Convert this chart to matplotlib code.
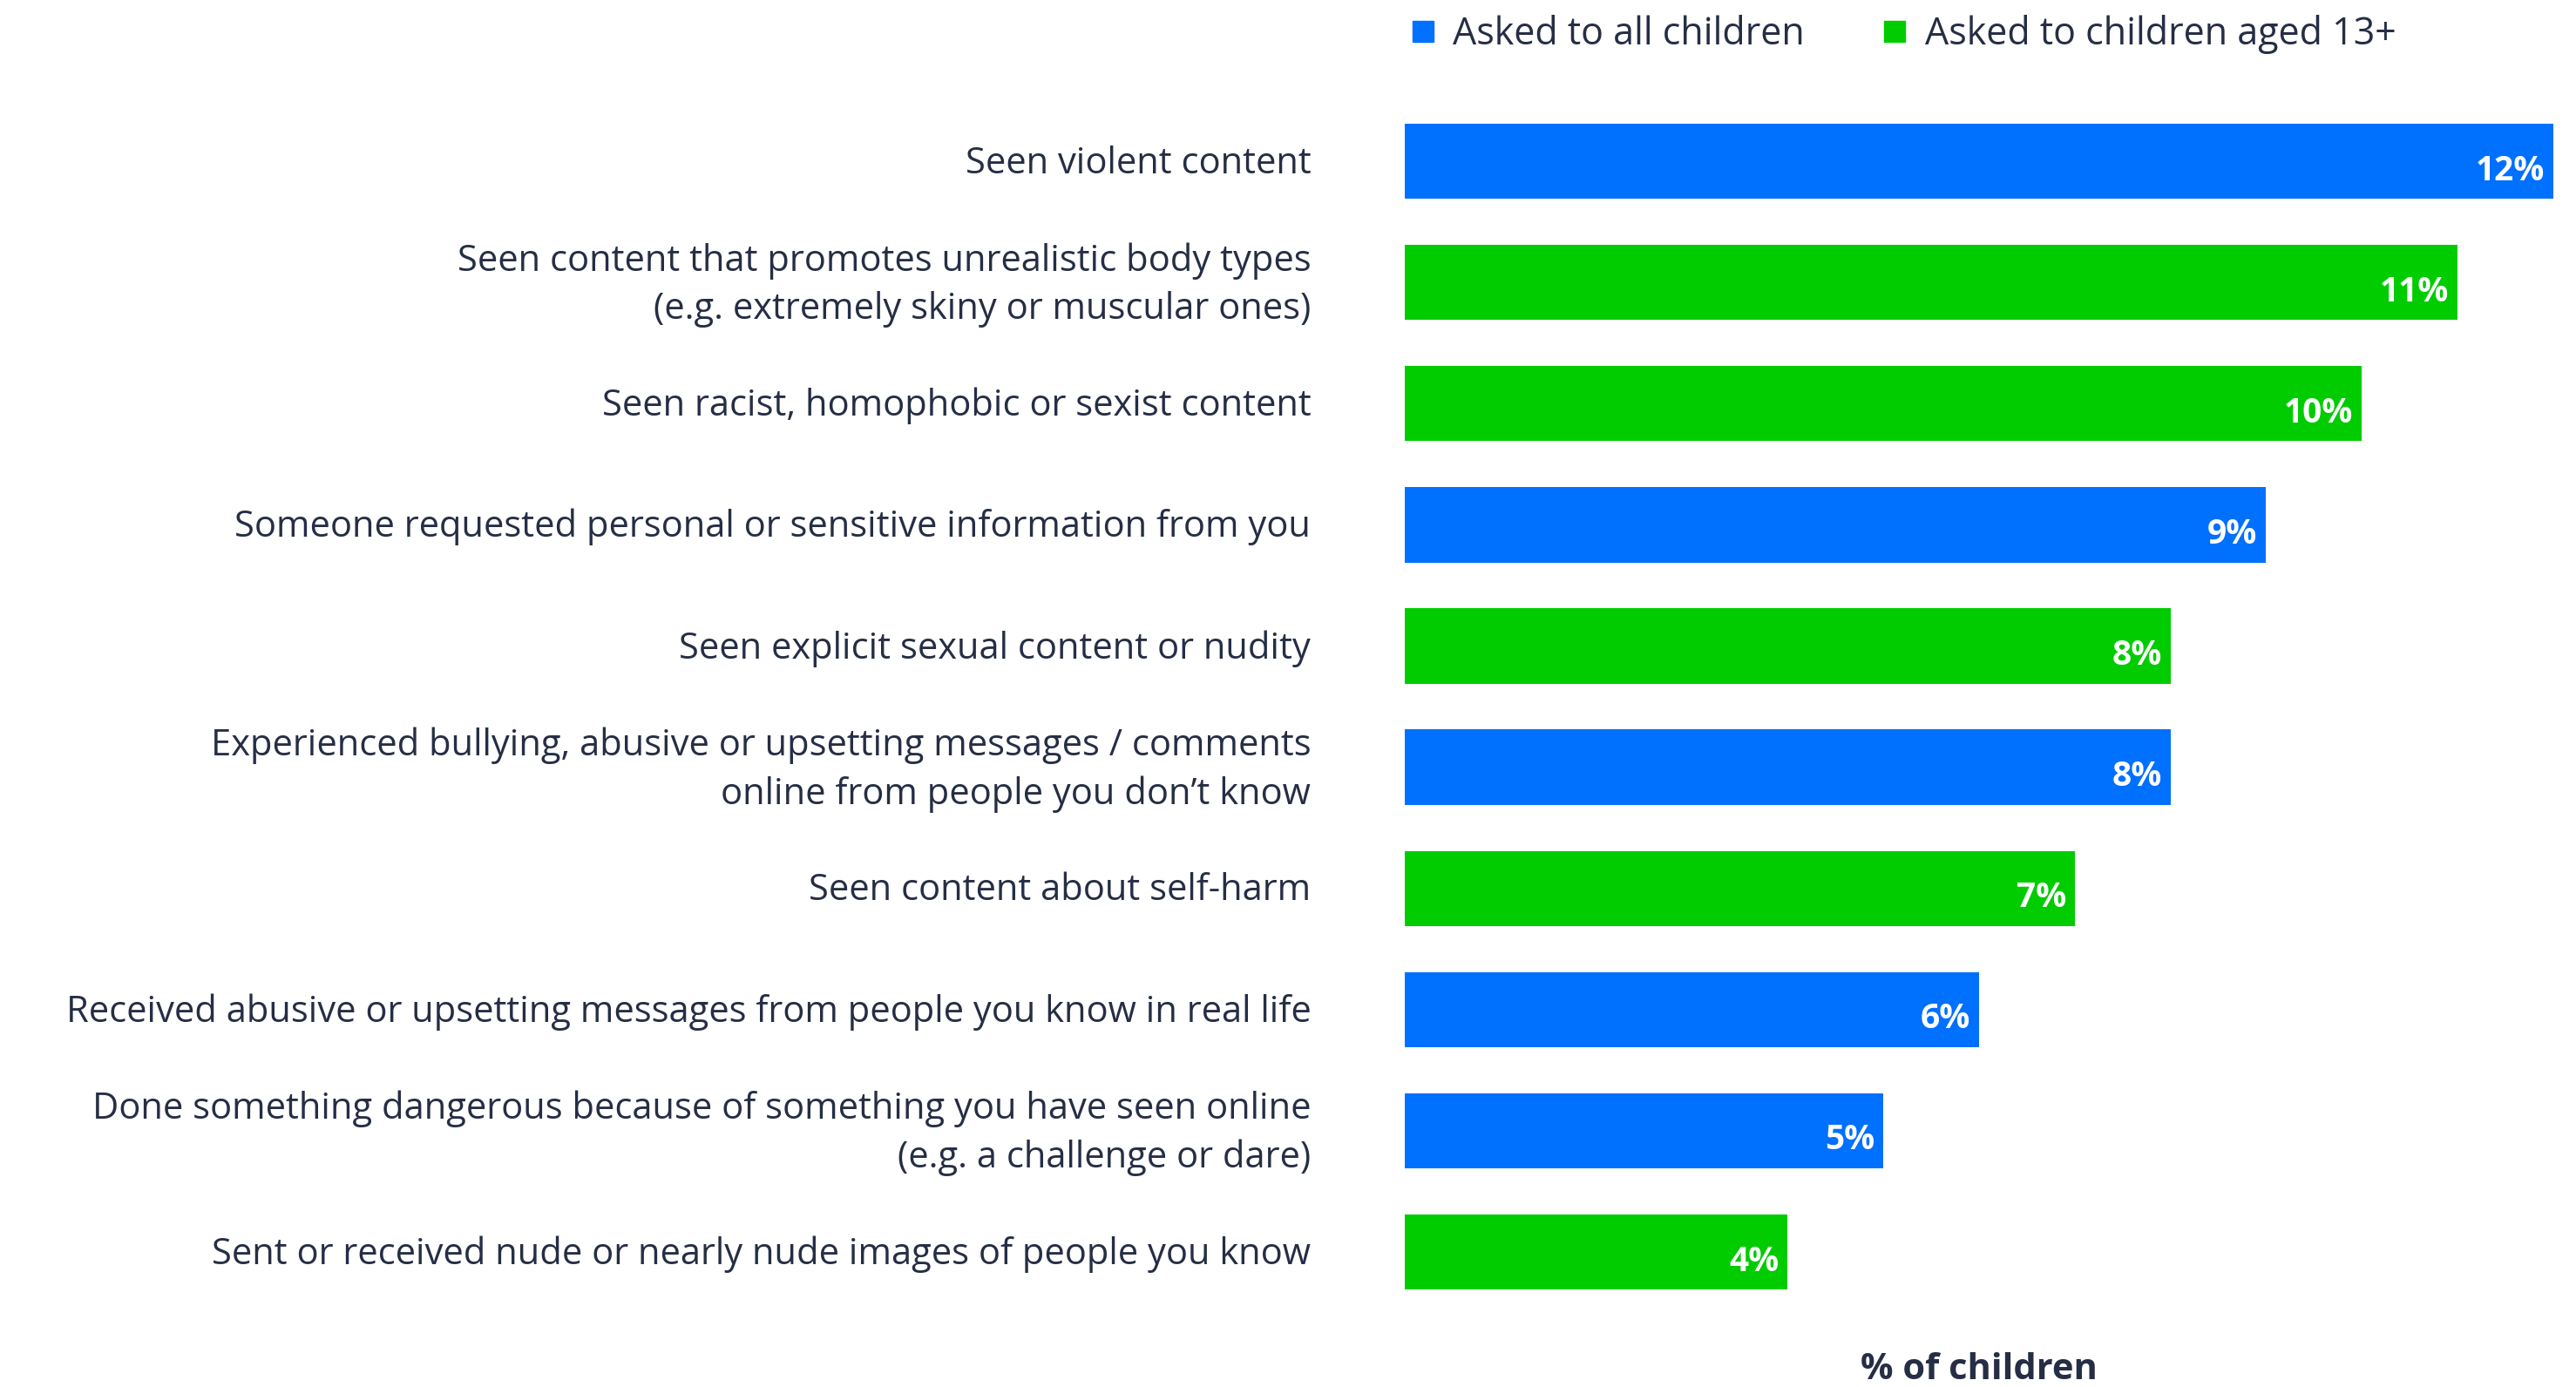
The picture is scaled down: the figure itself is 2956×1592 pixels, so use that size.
import matplotlib.pyplot as plt
from matplotlib.lines import Line2D

# survey results, top to bottom
labels = [
    "Seen violent content",
    "Seen content that promotes unrealistic body types\n(e.g. extremely skiny or muscular ones)",
    "Seen racist, homophobic or sexist content",
    "Someone requested personal or sensitive information from you",
    "Seen explicit sexual content or nudity",
    "Experienced bullying, abusive or upsetting messages / comments\nonline from people you don\u2019t know",
    "Seen content about self-harm",
    "Received abusive or upsetting messages from people you know in real life",
    "Done something dangerous because of something you have seen online\n(e.g. a challenge or dare)",
    "Sent or received nude or nearly nude images of people you know",
]
values = [12, 11, 10, 9, 8, 8, 7, 6, 5, 4]
groups = ["all", "13+", "13+", "all", "13+", "all", "13+", "all", "all", "13+"]

group_names = {"all": "Asked to all children", "13+": "Asked to children aged 13+"}
colors = {"all": "#0070FF", "13+": "#00CC00"}
text_color = "#262E45"

plt.rcParams["font.family"] = ["Open Sans", "DejaVu Sans"]

fig = plt.figure(figsize=(29.56, 15.92), dpi=100)
ax = fig.add_axes([0.5453, 0.0537, 0.4459, 0.8737])

y = list(range(len(values)))
ax.barh(y, values, height=0.62, color=[colors[g] for g in groups])

for yi, v in zip(y, values):
    ax.text(v - 0.09, yi + 0.08, f"{v}%", ha="right", va="center",
            color="white", fontsize=28, fontweight="bold")

for yi, lab in zip(y, labels):
    ax.text(-0.98, yi + 0.02, lab, ha="right", va="center", color=text_color,
            fontsize=30, linespacing=1.42)

ax.set_xlim(0, 12)
ax.set_ylim(len(values) - 0.5, -0.5)
ax.axis("off")

fig.text(0.5453 + 0.4459 / 2, 0.012, "% of children", ha="center", va="center",
         color=text_color, fontsize=30, fontweight="bold")

handles = [Line2D([], [], marker="s", linestyle="none", markersize=17,
                  markerfacecolor=colors[k], markeredgecolor=colors[k])
           for k in ["all", "13+"]]
fig.legend(handles, [group_names["all"], group_names["13+"]], loc="center left",
           bbox_to_anchor=(0.532, 0.975), ncol=2, frameon=False, fontsize=31,
           handletextpad=0.3, columnspacing=1.9, labelcolor=text_color,
           handlelength=1.0)

fig.savefig("out.png", dpi=100, facecolor="white")
